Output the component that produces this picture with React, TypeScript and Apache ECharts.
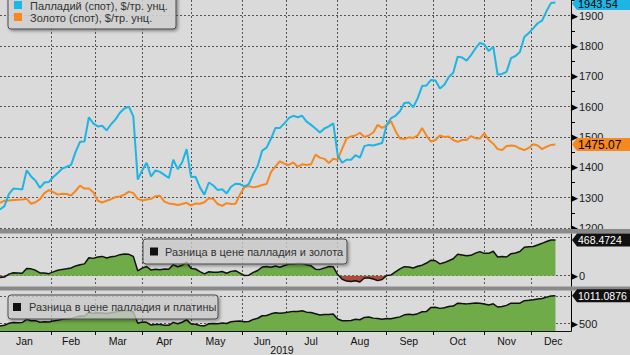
import React, { useEffect, useRef } from 'react';
import * as echarts from 'echarts';

// ---- data (one value every SAMPLE_STEP weekdays, starting 2019-01-01) ----
const SAMPLE_STEP = 2;
const AXIS_DAYS = 258;

const palladium = [
  1261, 1272, 1312, 1330, 1329, 1327, 1390, 1370, 1356, 1332,
  1350, 1352, 1368, 1381, 1396, 1402, 1408, 1450, 1484, 1485,
  1565, 1545, 1535, 1537, 1522, 1542, 1558, 1580, 1594, 1600,
  1568, 1360, 1390, 1415, 1370, 1390, 1385, 1375, 1365, 1425,
  1394, 1417, 1460, 1368, 1369, 1334, 1310, 1350, 1340, 1325,
  1328, 1314, 1336, 1346, 1345, 1337, 1345, 1378, 1405, 1455,
  1465, 1495, 1530, 1530, 1545, 1562, 1570, 1565, 1570, 1551,
  1540, 1528, 1515, 1528, 1535, 1545, 1440, 1415, 1425, 1425,
  1440, 1432, 1470, 1474, 1472, 1476, 1480, 1540, 1562, 1570,
  1585, 1612, 1614, 1598, 1628, 1668, 1670, 1688, 1686, 1660,
  1672, 1698, 1712, 1765, 1762, 1752, 1770, 1792, 1810, 1805,
  1783, 1798, 1705, 1708, 1715, 1760, 1767, 1780, 1830, 1843,
  1858, 1875, 1884, 1915, 1942, 1943.54,
];

const gold = [
  1283, 1290, 1291, 1292, 1293, 1294, 1296, 1280, 1285, 1295,
  1315, 1325, 1318, 1310, 1313, 1312, 1307, 1322, 1340, 1330,
  1330, 1318, 1290, 1284, 1290, 1295, 1302, 1304, 1310, 1320,
  1315, 1296, 1291, 1294, 1296, 1305, 1306, 1287, 1281, 1279,
  1276, 1279, 1283, 1274, 1281, 1280, 1285, 1298, 1296, 1279,
  1273, 1282, 1279, 1280, 1310, 1334, 1338, 1334, 1337, 1342,
  1345, 1385, 1403, 1420, 1412, 1408, 1416, 1402, 1410, 1408,
  1410, 1442, 1432, 1428, 1414, 1428, 1425, 1462, 1495, 1502,
  1505, 1514, 1500, 1505, 1515, 1540, 1530, 1538, 1552, 1520,
  1495, 1493, 1499, 1497, 1505, 1530, 1504, 1485, 1490, 1505,
  1500, 1502, 1490, 1484, 1490, 1490, 1503, 1496, 1495, 1512,
  1490, 1478, 1460, 1457, 1470, 1472, 1470, 1462, 1457, 1464,
  1476, 1472, 1460, 1468, 1474, 1475.07,
];

const platinum = [
  805, 800, 805, 808, 810, 805, 810, 815, 800, 805,
  815, 820, 820, 818, 815, 810, 815, 830, 845, 850,
  860, 855, 835, 840, 835, 840, 845, 848, 855, 860,
  855, 850, 860, 890, 895, 905, 900, 905, 895, 900,
  895, 890, 885, 875, 880, 865, 850, 850, 835, 825,
  815, 810, 800, 800, 795, 800, 805, 800, 805, 810,
  815, 815, 830, 840, 845, 850, 845, 840, 835, 840,
  835, 845, 855, 860, 865, 870, 855, 860, 870, 865,
  860, 860, 855, 850, 870, 880, 900, 945, 970, 960,
  960, 950, 940, 935, 945, 950, 945, 890, 885, 880,
  880, 885, 890, 890, 895, 890, 900, 915, 935, 945,
  940, 935, 900, 895, 880, 885, 895, 905, 910, 915,
  920, 922, 925, 930, 935, 932.4524,
];

const monthNames = ['Jan', 'Feb', 'Mar', 'Apr', 'May', 'Jun', 'Jul', 'Aug', 'Sep', 'Oct', 'Nov', 'Dec'];
const yearLabel = '2019';
const priceTicks = [1200, 1300, 1400, 1500, 1600, 1700, 1800, 1900];
const goldSpreadTicks = [0];
const goldSpreadGridValues = [0, 500];
const platSpreadTicks = [500];
const platSpreadGridValues = [500, 1000];

const legendPrices = ['Палладий (спот), $/тр. унц.', 'Золото (спот), $/тр. унц.'];
const legendGoldSpread = 'Разница в цене палладия и золота';
const legendPlatSpread = 'Разница в цене палладия и платины';

const lastPalladiumLabel = '1943.54';
const lastGoldLabel = '1475.07';
const lastGoldSpreadLabel = '468.4724';
const lastPlatSpreadLabel = '1011.0876';

// ---- styles ----
const FONT = '"Liberation Sans", Arial, sans-serif';
const C_PAL = '#1db5e3';
const C_GOLD = '#f7871f';
const C_GREEN = '#6fab48';
const C_RED = '#ae4a3b';
const C_BG = '#dadada';
const gridLine = { color: '#555555', width: 1, type: [2, 2] as any };

function buildCalendar() {
  const all: string[] = [];
  const d = new Date(Date.UTC(2019, 0, 1));
  while (d.getUTCFullYear() === 2019) {
    const wd = d.getUTCDay();
    if (wd !== 0 && wd !== 6) all.push(d.toISOString().slice(0, 10));
    d.setUTCDate(d.getUTCDate() + 1);
  }
  const starts: number[] = [0];
  for (let i = 1; i < all.length; i++) {
    if (all[i].slice(5, 7) !== all[i - 1].slice(5, 7)) starts.push(i);
  }
  const bounds = [...starts, all.length];
  const labelIdx = new Set<number>();
  for (let m = 0; m < starts.length; m++) labelIdx.add(Math.floor((bounds[m] + bounds[m + 1] - 1) / 2));
  const startSet = new Set<number>(starts.filter((s) => s > 0));
  return { categories: all.slice(0, AXIS_DAYS), labelIdx, startSet };
}

export default function App() {
  const ref = useRef<HTMLDivElement>(null);

  useEffect(() => {
    if (!ref.current) return;
    const chart = echarts.init(ref.current, undefined, { renderer: 'svg' });
    const { categories, labelIdx, startSet } = buildCalendar();

    const pts = (arr: number[]) => arr.map((v, i) => [i * SAMPLE_STEP, v]);
    const goldSpread = palladium.map((v, i) => +(v - gold[i]).toFixed(4));
    const platSpread = palladium.map((v, i) => +(v - platinum[i]).toFixed(4));

    const rich = {
      t: { fontSize: 9, color: '#000', fontFamily: '"DejaVu Sans", sans-serif' },
      v: { fontSize: 11, color: '#1a1a1a', fontFamily: FONT, padding: [0, 0, 0, 1] },
    };
    const labelFmt = (allowed: number[]) => (v: number) =>
      allowed.includes(Math.round(v * 1000) / 1000) ? `{t|▶}{v|${v}}` : '';

    const xAxisFor = (gridIndex: number, showLabels: boolean) => ({
      type: 'category',
      gridIndex,
      data: categories,
      boundaryGap: false,
      axisLine: { show: showLabels, lineStyle: { color: '#111', width: 1 } },
      axisTick: {
        show: showLabels,
        interval: (i: number) => startSet.has(i),
        length: 4,
        lineStyle: { color: '#111' },
      },
      axisLabel: {
        show: showLabels,
        interval: (i: number) => labelIdx.has(i),
        formatter: (v: string) => monthNames[parseInt(v.slice(5, 7), 10) - 1],
        color: '#111',
        fontSize: 10.5,
        fontFamily: FONT,
        margin: 4,
      },
      splitLine: { show: true, interval: (i: number) => startSet.has(i), lineStyle: gridLine },
    });

    const yBase = (gridIndex: number, min: number, max: number, ticks: number[]) => ({
      type: 'value',
      gridIndex,
      position: 'right',
      min,
      max,
      axisLine: { show: true, lineStyle: { color: '#000', width: 1 } },
      axisTick: { show: false },
      splitLine: { show: false },
      axisLabel: { margin: 0, formatter: labelFmt(ticks), rich },
    });

    const topY: any = yBase(0, 1200, 1951.7, priceTicks);
    topY.interval = 100;
    topY.splitLine = { show: true, lineStyle: gridLine, showMaxLine: false };
    topY.minorTick = { show: true, splitNumber: 2, length: 4, lineStyle: { color: '#000' } };

    const markGrid = (values: number[]) => ({
      silent: true,
      symbol: ['none', 'none'],
      z: 1,
      label: { show: false },
      lineStyle: gridLine,
      data: values.map((v) => ({ yAxis: v })),
    });

    chart.setOption({
      animation: false,
      backgroundColor: C_BG,
      grid: [
        { left: 0, right: 59, top: 0, height: 228 },
        { left: 0, right: 59, top: 234, height: 52.5 },
        { left: 0, right: 59, top: 291, height: 40 },
      ],
      xAxis: [xAxisFor(0, false), xAxisFor(1, false), xAxisFor(2, true)],
      yAxis: [topY, yBase(1, -141, 546, goldSpreadTicks), yBase(2, 367, 1097, platSpreadTicks)],
      visualMap: [
        {
          type: 'piecewise',
          show: false,
          seriesIndex: 2,
          dimension: 1,
          pieces: [
            { gt: -100000, lte: 0, color: C_RED },
            { gt: 0, lte: 100000, color: C_GREEN },
          ],
        },
      ],
      series: [
        {
          name: legendPrices[0], type: 'line', xAxisIndex: 0, yAxisIndex: 0, data: pts(palladium),
          symbol: 'none', z: 4, lineStyle: { color: C_PAL, width: 2 }, itemStyle: { color: C_PAL },
        },
        {
          name: legendPrices[1], type: 'line', xAxisIndex: 0, yAxisIndex: 0, data: pts(gold),
          symbol: 'none', z: 3, lineStyle: { color: C_GOLD, width: 2 }, itemStyle: { color: C_GOLD },
        },
        {
          name: legendGoldSpread + ' area', type: 'line', xAxisIndex: 1, yAxisIndex: 1, data: pts(goldSpread),
          symbol: 'none', z: 2, lineStyle: { width: 0 }, areaStyle: { opacity: 1, origin: 'auto' },
          markLine: markGrid(goldSpreadGridValues),
        },
        {
          name: legendGoldSpread, type: 'line', xAxisIndex: 1, yAxisIndex: 1, data: pts(goldSpread),
          symbol: 'none', z: 3, lineStyle: { color: '#111', width: 1.5 }, itemStyle: { color: '#111' },
        },
        {
          name: legendPlatSpread + ' area', type: 'line', xAxisIndex: 2, yAxisIndex: 2, data: pts(platSpread),
          symbol: 'none', z: 2, lineStyle: { width: 0 }, itemStyle: { color: C_GREEN },
          areaStyle: { color: C_GREEN, opacity: 1 },
          markLine: markGrid(platSpreadGridValues),
        },
        {
          name: legendPlatSpread, type: 'line', xAxisIndex: 2, yAxisIndex: 2, data: pts(platSpread),
          symbol: 'none', z: 3, lineStyle: { color: '#111', width: 1.5 }, itemStyle: { color: '#111' },
        },
      ],
    });

    const yOf = (axis: number, v: number) => chart.convertToPixel({ yAxisIndex: axis } as any, v) as number;
    const lastIdx = palladium.length - 1;

    const tag = (yc: number, fill: string, textColor: string, text: string, size: number) => ({
      type: 'group',
      z: 120,
      children: [
        {
          type: 'polygon',
          z: 120,
          shape: { points: [[572, yc], [577, yc - 6.5], [630, yc - 6.5], [630, yc + 6.5], [577, yc + 6.5]] },
          style: { fill },
        },
        {
          type: 'text',
          z: 121,
          x: 578,
          y: yc + 0.5,
          style: { text, fill: textColor, font: `${size}px ${FONT}`, verticalAlign: 'middle', align: 'left' },
        },
      ],
    });

    const legendBox = (x: number, y: number, w: number, h: number, alpha: number) => ({
      type: 'rect',
      z: 110,
      shape: { x, y, width: w, height: h, r: 3 },
      style: {
        fill: `rgba(214,214,214,${alpha})`,
        stroke: '#4a4a4a',
        lineWidth: 1,
        shadowBlur: 3,
        shadowOffsetX: 1.5,
        shadowOffsetY: 1.5,
        shadowColor: 'rgba(0,0,0,0.45)',
      },
    });
    const square = (x: number, y: number, fill: string) => ({
      type: 'rect', z: 111, shape: { x, y, width: 8, height: 8 }, style: { fill },
    });
    const label = (x: number, y: number, text: string) => ({
      type: 'text', z: 111, x, y,
      style: { text, fill: '#333', font: `11px ${FONT}`, verticalAlign: 'middle', align: 'left' },
    });

    const yPalTag = Math.max(yOf(0, palladium[lastIdx]), 3.5);

    chart.setOption({
      graphic: [
        { type: 'rect', z: 105, shape: { x: 0, y: 229, width: 630, height: 4.5 }, style: { fill: '#8a8a8a' } },
        { type: 'rect', z: 105, shape: { x: 0, y: 286.5, width: 630, height: 4 }, style: { fill: '#8a8a8a' } },
        legendBox(8, -6, 168, 35, 0.85),
        square(14, 1, C_PAL),
        label(30, 5.5, legendPrices[0]),
        square(14, 13, C_GOLD),
        label(30, 17.5, legendPrices[1]),
        legendBox(143, 239, 204, 25, 0.7),
        square(150, 247.5, '#111'),
        label(165, 251.5, legendGoldSpread),
        legendBox(8, 295, 210, 24, 0.7),
        square(13, 303, '#111'),
        label(29, 307, legendPlatSpread),
        {
          type: 'text', z: 111, x: 282, y: 350,
          style: { text: yearLabel, fill: '#111', font: `10.5px ${FONT}`, align: 'center', verticalAlign: 'middle' },
        },
        tag(yPalTag, C_PAL, '#000', lastPalladiumLabel, 11),
        tag(yOf(0, gold[lastIdx]), C_GOLD, '#000', lastGoldLabel, 12),
        tag(yOf(1, goldSpread[lastIdx]), '#111', '#fff', lastGoldSpreadLabel, 10.5),
        tag(yOf(2, platSpread[lastIdx]), '#111', '#fff', lastPlatSpreadLabel, 10.5),
      ],
    });

    return () => chart.dispose();
  }, []);

  return <div ref={ref} style={{ position: 'fixed', left: 0, top: 0, width: 630, height: 355 }} />;
}
